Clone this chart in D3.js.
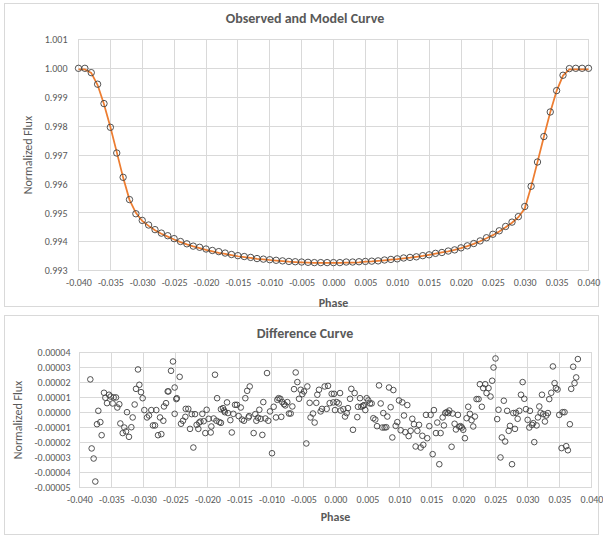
<!DOCTYPE html>
<html><head><meta charset="utf-8">
<script src="https://cdn.jsdelivr.net/npm/d3@7"></script>
<style>
html,body{margin:0;padding:0;background:#fff;}
svg text{font-family:Carlito,Lato,"Liberation Sans",sans-serif;fill:#595959;}
</style></head>
<body><svg id="c" width="603" height="538"></svg>
<script>
// ---------- DATA ----------
const topTitle = "Observed and Model Curve";
const bottomTitle = "Difference Curve";
const xLabel = "Phase";
const yLabel = "Normalized Flux";

const xTicks = [-0.040,-0.035,-0.030,-0.025,-0.020,-0.015,-0.010,-0.005,0.000,0.005,0.010,0.015,0.020,0.025,0.030,0.035,0.040];
const topYTicks = [0.993,0.994,0.995,0.996,0.997,0.998,0.999,1.000,1.001];
const bottomYTicks = [-0.00005,-0.00004,-0.00003,-0.00002,-0.00001,0,0.00001,0.00002,0.00003,0.00004];

// phases of observed / model samples (step 0.001)
const phase = [-0.040,-0.039,-0.038,-0.037,-0.036,-0.035,-0.034,-0.033,-0.032,-0.031,
 -0.030,-0.029,-0.028,-0.027,-0.026,-0.025,-0.024,-0.023,-0.022,-0.021,
 -0.020,-0.019,-0.018,-0.017,-0.016,-0.015,-0.014,-0.013,-0.012,-0.011,
 -0.010,-0.009,-0.008,-0.007,-0.006,-0.005,-0.004,-0.003,-0.002,-0.001,
 0.000,0.001,0.002,0.003,0.004,0.005,0.006,0.007,0.008,0.009,
 0.010,0.011,0.012,0.013,0.014,0.015,0.016,0.017,0.018,0.019,
 0.020,0.021,0.022,0.023,0.024,0.025,0.026,0.027,0.028,0.029,
 0.030,0.031,0.032,0.033,0.034,0.035,0.036,0.037,0.038,0.039,0.040];

const observed = [1.00000,1.00000,0.99985,0.99945,0.99878,0.99796,0.99707,0.99623,0.99546,0.99497,
 0.99474,0.99458,0.99442,0.99430,0.99421,0.99411,0.99401,0.99393,0.99385,0.99381,
 0.99375,0.99370,0.99366,0.99361,0.99356,0.99352,0.99349,0.99346,0.99342,0.99340,
 0.99338,0.99336,0.99334,0.99332,0.99331,0.99330,0.99329,0.99328,0.99328,0.99328,
 0.99328,0.99328,0.99330,0.99330,0.99331,0.99332,0.99333,0.99334,0.99337,0.99339,
 0.99341,0.99344,0.99346,0.99348,0.99352,0.99355,0.99360,0.99363,0.99368,0.99372,
 0.99379,0.99386,0.99394,0.99403,0.99414,0.99426,0.99438,0.99453,0.99468,0.99487,
 0.99522,0.99592,0.99676,0.99764,0.99849,0.99923,0.99976,0.99999,1.00000,1.00000,1.00000];

const model = [0.99996,0.99996,0.99984,0.99942,0.99876,0.99797,0.99710,0.99622,0.99545,0.99500,
 0.99472,0.99455,0.99440,0.99428,0.99418,0.99408,0.99399,0.99391,0.99384,0.99378,
 0.99372,0.99367,0.99362,0.99358,0.99354,0.99350,0.99347,0.99344,0.99341,0.99339,
 0.99337,0.99335,0.99333,0.99331,0.99330,0.99329,0.99328,0.99327,0.99327,0.99327,
 0.99327,0.99327,0.99328,0.99328,0.99329,0.99331,0.99332,0.99334,0.99336,0.99338,
 0.99340,0.99343,0.99345,0.99348,0.99351,0.99355,0.99359,0.99363,0.99367,0.99372,
 0.99378,0.99385,0.99393,0.99402,0.99412,0.99423,0.99436,0.99450,0.99466,0.99485,
 0.99515,0.99590,0.99676,0.99763,0.99848,0.99922,0.99975,0.99996,0.99996,0.99996,0.99996];

// difference curve: phase (x 0.001) and residual (x 0.00001)
const diffPhase = [
 -38.31,-38.10,-37.79,-37.53,-37.27,-37.06,-36.74,-36.54,-36.17,-35.96,-35.70,-35.39,-35.13,-34.82,-34.66,-34.30,-34.09,-33.78,-33.62,-33.25,
 -33.00,-32.73,-32.58,-32.27,-31.90,-31.69,-31.38,-31.17,-30.86,-30.65,-30.39,-30.13,-29.87,-29.45,-29.14,-28.78,-28.52,-28.20,-28.00,-27.73,
 -27.42,-27.21,-26.90,-26.80,
 -26.48,-26.22,-26.10,-25.70,-25.39,-25.13,-25.13,-24.87,-24.80,-24.35,-24.14,-23.83,-23.46,-23.40,-23.00,-22.73,-22.47,-22.21,-21.95,-21.70,
 -21.43,-21.30,-21.10,-20.81,-20.60,-20.34,-20.13,-19.82,-19.50,-19.40,-19.04,-18.83,-18.60,-18.50,-18.15,-17.90,-17.90,-17.58,-17.40,-17.30,
 -16.95,-16.80,-16.43,-16.20,-15.96,-15.70,-15.40,-15.13,-14.80,-14.61,-14.30,-14.09,-13.80,-13.60,-13.50,-13.40,
 -12.79,-12.53,-12.37,-12.11,-11.90,-11.69,-11.43,-11.28,-10.96,-10.70,-10.50,-10.23,-9.92,-9.66,-9.30,-9.09,-8.90,-8.62,-8.47,-8.31,
 -8.05,-7.84,-7.53,-7.27,-7.00,-6.74,-6.48,-6.22,-5.96,-5.70,-5.44,-5.18,-4.92,-4.56,-4.40,-4.04,-3.90,-3.52,-3.26,-3.00,
 -2.84,-2.58,-2.32,-2.11,-1.69,-1.38,-1.17,-0.91,-0.60,-0.34,-0.08,
 -0.23,0.19,0.50,0.71,0.81,1.23,1.49,1.75,1.95,2.27,2.47,2.73,2.99,3.41,3.51,3.83,4.03,4.29,4.45,4.66,
 4.87,5.13,5.39,5.65,5.91,6.22,6.49,6.80,7.06,7.32,7.47,7.68,7.94,8.10,8.36,8.62,8.88,9.04,9.40,9.66,
 9.92,10.18,10.44,10.70,10.91,11.22,11.43,11.74,12.00,12.26,12.52,12.79,13.05,13.31,13.57,13.72,
 14.14,14.34,14.66,14.86,15.18,15.38,15.70,15.90,16.22,16.42,16.74,16.94,17.15,17.36,17.62,17.78,18.14,18.30,18.61,18.82,
 19.13,19.34,19.54,19.75,19.96,20.22,20.48,20.74,21.00,21.26,21.52,21.78,22.04,22.35,22.56,22.87,23.08,23.39,23.60,23.91,
 24.22,24.48,24.69,25.00,25.26,25.47,25.78,25.99,26.30,26.51,26.82,
 27.06,27.26,27.58,27.78,28.04,28.20,28.46,28.72,28.98,29.24,29.50,29.76,30.02,30.28,30.38,30.70,30.90,31.06,31.42,31.63,
 31.84,32.05,32.26,32.46,32.72,32.93,33.19,33.40,33.71,33.97,34.23,34.44,34.70,34.96,35.32,35.48,35.79,36.05,36.31,36.62,
 36.83,37.14,37.35,37.61,37.87];
const diffValue = [
 2.20,-2.39,-3.06,-4.59,-0.78,0.11,-0.64,-1.51,1.31,0.98,0.62,1.18,1.06,0.60,1.00,1.00,0.33,0.55,-0.73,-1.37,
 -1.00,-1.26,0.02,-1.62,-0.98,-0.33,0.53,1.57,2.86,1.84,1.35,0.95,0.16,-0.33,-0.20,0.16,-0.86,-0.86,0.16,-1.51,
 -0.33,-1.44,-0.55,0.40,
 0.62,1.40,1.40,2.77,3.39,1.66,-0.09,0.89,0.95,2.37,-0.75,-0.55,-0.29,0.24,0.24,-1.09,-0.11,-2.33,-0.11,-0.82,
 -1.09,-0.67,-0.60,-0.09,-0.58,-1.37,0.18,-0.42,-1.33,-0.93,-0.40,2.51,-0.55,0.95,-0.64,-0.69,0.22,0.29,0.13,0.02,
 0.67,-0.04,-0.51,-1.33,-0.09,0.51,0.51,-0.24,0.33,-0.47,-0.55,0.95,1.44,-0.33,-0.24,1.73,
 -1.37,-0.11,-0.55,-0.35,0.18,-0.42,-1.49,0.69,-0.40,2.62,-0.55,0.07,-2.71,0.38,-0.33,0.84,0.95,0.91,-0.29,0.69,
 0.55,0.47,0.69,-0.07,-0.07,0.40,1.55,2.66,2.02,0.91,1.51,1.22,1.40,-2.06,1.73,0.64,-0.33,-0.07,-0.67,0.64,
 1.18,1.51,0.07,0.24,1.73,0.24,1.77,0.62,1.24,0.67,0.16,
 1.24,0.69,0.60,1.29,0.13,0.22,-0.27,-0.04,0.29,0.91,1.57,-1.15,1.29,-0.31,0.38,0.95,0.38,0.44,0.49,0.16,
 0.95,0.80,0.60,0.60,-0.38,-0.47,-0.91,1.80,0.60,-1.00,-0.04,-1.00,-0.98,-0.27,1.66,0.35,-1.66,1.49,-0.89,-0.64,
 0.80,-1.18,0.67,-0.20,-1.31,0.49,-1.57,-1.22,-0.42,-0.78,-2.26,-1.22,-0.82,-2.33,-1.55,-2.15,
 -0.16,-1.71,-0.91,-0.16,-2.77,0.16,-1.37,-0.67,-3.44,-1.37,-0.33,-0.86,-0.04,0.02,-0.04,0.13,-2.28,-0.07,-0.75,-1.13,
 -0.16,-0.95,-0.91,-1.00,-1.15,-1.71,-0.38,0.38,-0.09,-0.51,-0.93,-0.27,0.89,0.89,1.88,0.38,1.62,1.88,1.29,1.62,
 1.06,2.11,2.99,3.59,-0.44,0.18,-2.99,-1.66,0.78,-1.93,0.11,
 -1.22,-0.89,-3.44,-0.04,-1.09,-0.02,-0.42,0.11,1.18,2.02,0.91,0.22,-0.49,-1.00,0.11,-0.82,-0.71,-1.97,-0.86,-0.33,
 0.40,-0.02,1.18,-0.11,-0.60,-0.20,-0.04,0.89,1.31,3.06,1.95,1.62,1.53,-0.16,-2.37,0.02,0.02,-2.24,-2.51,-0.78,
 1.57,3.04,1.95,2.33,3.55];

// ---------- DRAW ----------
const svg = d3.select("#c");
const GRID = "#d9d9d9", BORDER = "#d9d9d9", ORANGE = "#ED7D31", MARK = "#404040";

function chartBox(y0, y1){
  svg.append("rect").attr("x",4.5).attr("y",y0).attr("width",594).attr("height",y1-y0)
    .attr("fill","#fff").attr("stroke",BORDER).attr("stroke-width",1);
}

function panel(o){
  const x = d3.scaleLinear().domain([-0.040,0.040]).range([o.x0,o.x1]);
  const y = d3.scaleLinear().domain(o.yDomain).range([o.y1,o.y0]);
  const g = svg.append("g");
  // gridlines
  g.append("g").selectAll("line").data(o.yTicks).join("line")
    .attr("x1",o.x0).attr("x2",o.x1).attr("y1",d=>y(d)).attr("y2",d=>y(d))
    .attr("stroke",GRID).attr("stroke-width",1).attr("shape-rendering","crispEdges");
  g.append("g").selectAll("line").data(xTicks).join("line")
    .attr("y1",o.y0).attr("y2",o.y1).attr("x1",d=>x(d)).attr("x2",d=>x(d))
    .attr("stroke",GRID).attr("stroke-width",1).attr("shape-rendering","crispEdges");
  // axes (labels only)
  const xa = g.append("g").attr("transform",`translate(0,${o.y1})`)
    .call(d3.axisBottom(x).tickValues(xTicks).tickFormat(d3.format(".3f")).tickSize(0).tickPadding(8));
  const ya = g.append("g").attr("transform",`translate(${o.x0},0)`)
    .call(d3.axisLeft(y).tickValues(o.yTicks).tickFormat(o.yFormat).tickSize(0).tickPadding(o.yPad));
  [xa,ya].forEach(a=>{a.select(".domain").remove();
    a.selectAll("text").attr("font-size",10).attr("fill","#595959")
     .style("font-family","Carlito,Lato,'Liberation Sans',sans-serif");});
  xa.selectAll("text").text(d=>d3.format(".3f")(d).replace("−","-"));
  ya.selectAll("text").text(d=>o.yFormat(d).replace("−","-"));
  // titles
  svg.append("text").attr("x",305).attr("y",o.titleY).attr("text-anchor","middle")
    .attr("font-size",14).attr("font-weight","bold").text(o.title);
  svg.append("text").attr("x",(o.x0+o.x1)/2).attr("y",o.xLabY).attr("text-anchor","middle")
    .attr("font-size",12).attr("font-weight","bold").text(xLabel);
  svg.append("text").attr("transform",`translate(${o.yLabX},${(o.y0+o.y1)/2}) rotate(-90)`)
    .attr("text-anchor","middle").attr("font-size",12).text(yLabel);
  return {x,y,g};
}

// top chart
chartBox(3.5, 306.5);
const T = panel({x0:78.5,x1:588.5,y0:39.4,y1:270.7,yDomain:[0.993,1.001],yTicks:topYTicks,
  yFormat:d3.format(".3f"),yPad:11,title:topTitle,titleY:23,xLabY:307,yLabX:32});
T.g.append("path").datum(phase.map((p,i)=>[p,model[i]]))
  .attr("fill","none").attr("stroke",ORANGE).attr("stroke-width",1.75)
  .attr("d",d3.line().x(d=>T.x(d[0])).y(d=>T.y(d[1])));
T.g.append("g").selectAll("circle").data(phase.map((p,i)=>[p,observed[i]])).join("circle")
  .attr("cx",d=>T.x(d[0])).attr("cy",d=>T.y(d[1])).attr("r",3.2)
  .attr("fill","none").attr("stroke",MARK).attr("stroke-width",0.9);

// bottom chart
chartBox(315.5, 534.5);
const B = panel({x0:79.5,x1:591.5,y0:352.3,y1:487.7,yDomain:[-0.00005,0.00004],yTicks:bottomYTicks,
  yFormat:d3.format(".5f"),yPad:9,title:bottomTitle,titleY:338,xLabY:521,yLabX:22});
B.g.append("g").selectAll("circle").data(diffPhase.map((p,i)=>[p/1000,diffValue[i]/100000])).join("circle")
  .attr("cx",d=>B.x(d[0])).attr("cy",d=>B.y(d[1])).attr("r",2.8)
  .attr("fill","none").attr("stroke",MARK).attr("stroke-width",0.9);
</script></body></html>
